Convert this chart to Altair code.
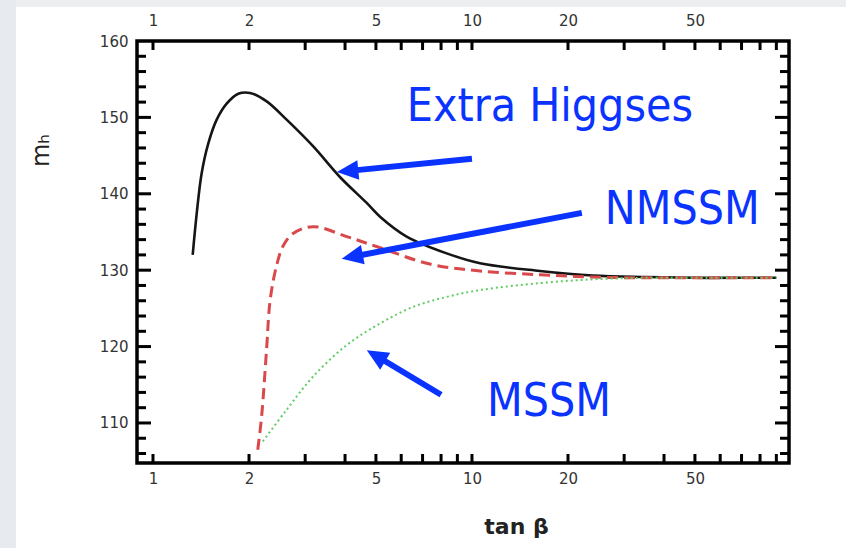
import math
import altair as alt
import pandas as pd

# ---------------- data ----------------
X_DOMAIN = [0.891, 98.6]
Y_DOMAIN = [104.76, 160.0]
W, H = 652, 422

black_tan = [1.332, 1.371, 1.421, 1.491, 1.584, 1.702, 1.851, 2.014, 2.272, 2.624, 3.18, 3.855, 4.677, 5.15, 6.24, 8.33, 10.6, 16.3, 23.9, 35, 50, 70, 90]
black_m = [132.0, 137.4, 142.7, 146.6, 149.7, 151.8, 153.1, 153.2, 152.1, 149.7, 146.2, 142.2, 138.8, 137.0, 134.4, 132.2, 130.9, 129.9, 129.3, 129.1, 129.0, 129.0, 129.0]

red_tan = [2.13, 2.19, 2.27, 2.33, 2.44, 2.56, 2.75, 3.18, 4.05, 5.1, 7.38, 10.6, 16.3, 23.9, 35, 50, 70, 90]
red_m = [106.5, 110.8, 119.6, 126.1, 130.6, 133.2, 134.8, 135.7, 134.4, 133.0, 130.8, 129.9, 129.4, 129.1, 129.0, 129.0, 129.0, 129.0]

green_tan = [2.21, 2.62, 3.18, 4.05, 5.14, 6.54, 8.33, 10.6, 16.3, 23.9, 35, 50, 70, 90]
green_m = [107.6, 111.7, 116.1, 120.2, 123.0, 125.2, 126.5, 127.4, 128.3, 128.8, 129.0, 129.0, 129.0, 129.0]

x_label_values = [1, 2, 5, 10, 20, 50]
y_label_values = [110, 120, 130, 140, 150, 160]
x_tick_values = [1, 2, 3, 4, 5, 6, 7, 8, 9, 10, 20, 30, 40, 50, 60, 70, 80, 90]
y_minor_ticks = [106, 108, 112, 114, 116, 118, 122, 124, 126, 128, 132, 134, 136, 138,
                 142, 144, 146, 148, 152, 154, 156, 158]
y_major_ticks = [110, 120, 130, 140, 150]

note_labels = ["Extra Higgses", "NMSSM", "MSSM"]
note_tan = [6.25, 26.1, 11.14]
note_m = [149.5, 136.0, 110.9]

arrow_tail_tan = [10.0, 22.1, 8.0]
arrow_tail_m = [144.6, 137.5, 113.7]
arrow_head_tan = [4.12, 4.26, 5.05]
arrow_head_m = [143.0, 131.8, 118.7]

# ---------------- helpers ----------------
def px(t):
    l0, l1 = math.log10(X_DOMAIN[0]), math.log10(X_DOMAIN[1])
    return W * (math.log10(t) - l0) / (l1 - l0)

def py(m):
    return H * (Y_DOMAIN[1] - m) / (Y_DOMAIN[1] - Y_DOMAIN[0])

angles = []
for tx, ty, hx, hy in zip(arrow_tail_tan, arrow_tail_m, arrow_head_tan, arrow_head_m):
    dx = px(hx) - px(tx)
    dy = py(hy) - py(ty)
    angles.append(math.degrees(math.atan2(dx, -dy)) % 360)

xscale = alt.Scale(type="log", domain=X_DOMAIN, nice=False)
yscale = alt.Scale(domain=Y_DOMAIN, nice=False, zero=False)

LABEL_FONT = "DejaVu Sans"
bottom_axis = alt.Axis(values=x_label_values, format="d", orient="bottom", ticks=False, domain=False,
                       grid=False, labelFont=LABEL_FONT, labelFontSize=15, labelColor="#333333",
                       labelPadding=8, title="tan β", titleFont=LABEL_FONT, titleFontSize=22,
                       titleFontWeight="bold", titleColor="#222222", titleX=379, titleY=70,
                       titleAlign="center", titleBaseline="alphabetic")
top_axis = alt.Axis(values=x_label_values, format="d", orient="top", ticks=False, domain=False,
                    grid=False, labelFont=LABEL_FONT, labelFontSize=15, labelColor="#333333",
                    labelPadding=13, title=None)
left_axis = alt.Axis(values=y_label_values, format="d", orient="left", ticks=False, domain=False,
                     grid=False, labelFont=LABEL_FONT, labelFontSize=15, labelColor="#333333",
                     labelPadding=9, title="mₕ", titleFont=LABEL_FONT, titleFontSize=24,
                     titleFontWeight="normal", titleColor="#222222", titleX=-96, titleY=109,
                     titleAngle=270, titleAlign="center", titleBaseline="middle")

def curve(tans, ms, color, width, dash, axes=False):
    df = pd.DataFrame({"tan": tans, "m": ms})
    kw = dict(color=color, strokeWidth=width, interpolate="catmull-rom", clip=True)
    if dash:
        kw["strokeDash"] = dash
    return alt.Chart(df).mark_line(**kw).encode(
        x=alt.X("tan:Q", scale=xscale, axis=bottom_axis if axes else None),
        y=alt.Y("m:Q", scale=yscale, axis=left_axis if axes else None),
        order=alt.Order("tan:Q"),
    )

black = curve(black_tan, black_m, "#151515", 2.6, None, axes=True)
red = curve(red_tan, red_m, "#d9484a", 3, [11, 6])
green = curve(green_tan, green_m, "#62cc62", 2, [2, 3])

one = pd.DataFrame({"k": [0]})
strip_left = alt.Chart(one).mark_rect(color="#e7ebef").encode(
    x=alt.value(-137), x2=alt.value(-121), y=alt.value(-41), y2=alt.value(507))
strip_top = alt.Chart(one).mark_rect(color="#eceef0").encode(
    x=alt.value(-121), x2=alt.value(709), y=alt.value(-41), y2=alt.value(-34))

xt = pd.DataFrame({"v": x_tick_values})
ticks_bottom = alt.Chart(xt).mark_rule(color="black", strokeWidth=3).encode(
    x=alt.X("v:Q", scale=xscale, axis=None), y=alt.value(H), y2=alt.value(H - 9))
ticks_top = alt.Chart(xt).mark_rule(color="black", strokeWidth=3).encode(
    x=alt.X("v:Q", scale=xscale, axis=top_axis), y=alt.value(0), y2=alt.value(9))

ymin = pd.DataFrame({"v": y_minor_ticks})
ymaj = pd.DataFrame({"v": y_major_ticks})
def yticks(df, x0, x1):
    return alt.Chart(df).mark_rule(color="black", strokeWidth=3).encode(
        y=alt.Y("v:Q", scale=yscale, axis=None), x=alt.value(x0), x2=alt.value(x1))
ticks_left = yticks(ymin, 0, 9) + yticks(ymaj, 0, 14)
ticks_right = yticks(ymin, W, W - 9) + yticks(ymaj, W, W - 14)

arrows_df = pd.DataFrame({
    "tx": arrow_tail_tan, "ty": arrow_tail_m,
    "hx": arrow_head_tan, "hy": arrow_head_m, "angle": angles,
})
BLUE = "#0a33ff"
arrow_shafts = alt.Chart(arrows_df).mark_rule(color=BLUE, strokeWidth=6).encode(
    x=alt.X("tx:Q", scale=xscale, axis=None), x2="hx:Q",
    y=alt.Y("ty:Q", scale=yscale, axis=None), y2="hy:Q")
arrow_heads = alt.Chart(arrows_df).mark_point(
    shape="M0,-1L0.8,0.75L-0.8,0.75Z", filled=True, color=BLUE, opacity=1, size=600, strokeWidth=0
).encode(
    x=alt.X("hx:Q", scale=xscale, axis=None),
    y=alt.Y("hy:Q", scale=yscale, axis=None),
    angle=alt.Angle("angle:Q", scale=None),
)

notes_df = pd.DataFrame({"label": note_labels, "tan": note_tan, "m": note_m})
notes = alt.Chart(notes_df).mark_text(
    align="left", baseline="alphabetic", color=BLUE, fontSize=46,
    font="DejaVu Sans Condensed, Liberation Sans Narrow, DejaVu Sans",
).encode(
    x=alt.X("tan:Q", scale=xscale, axis=None),
    y=alt.Y("m:Q", scale=yscale, axis=None),
    text="label:N",
)

chart = alt.layer(
    strip_left, strip_top, black, red, green,
    ticks_bottom, ticks_top, ticks_left, ticks_right,
    arrow_shafts, arrow_heads, notes,
).resolve_axis(x="independent", y="independent").properties(
    width=W, height=H,
    autosize=alt.AutoSizeParams(type="none"),
    padding={"left": 137, "top": 41, "right": 57, "bottom": 85},
    background="white",
).configure_view(stroke="black", strokeWidth=3.5)

chart.save("out.html", embed_options={"renderer": "svg", "actions": False})
